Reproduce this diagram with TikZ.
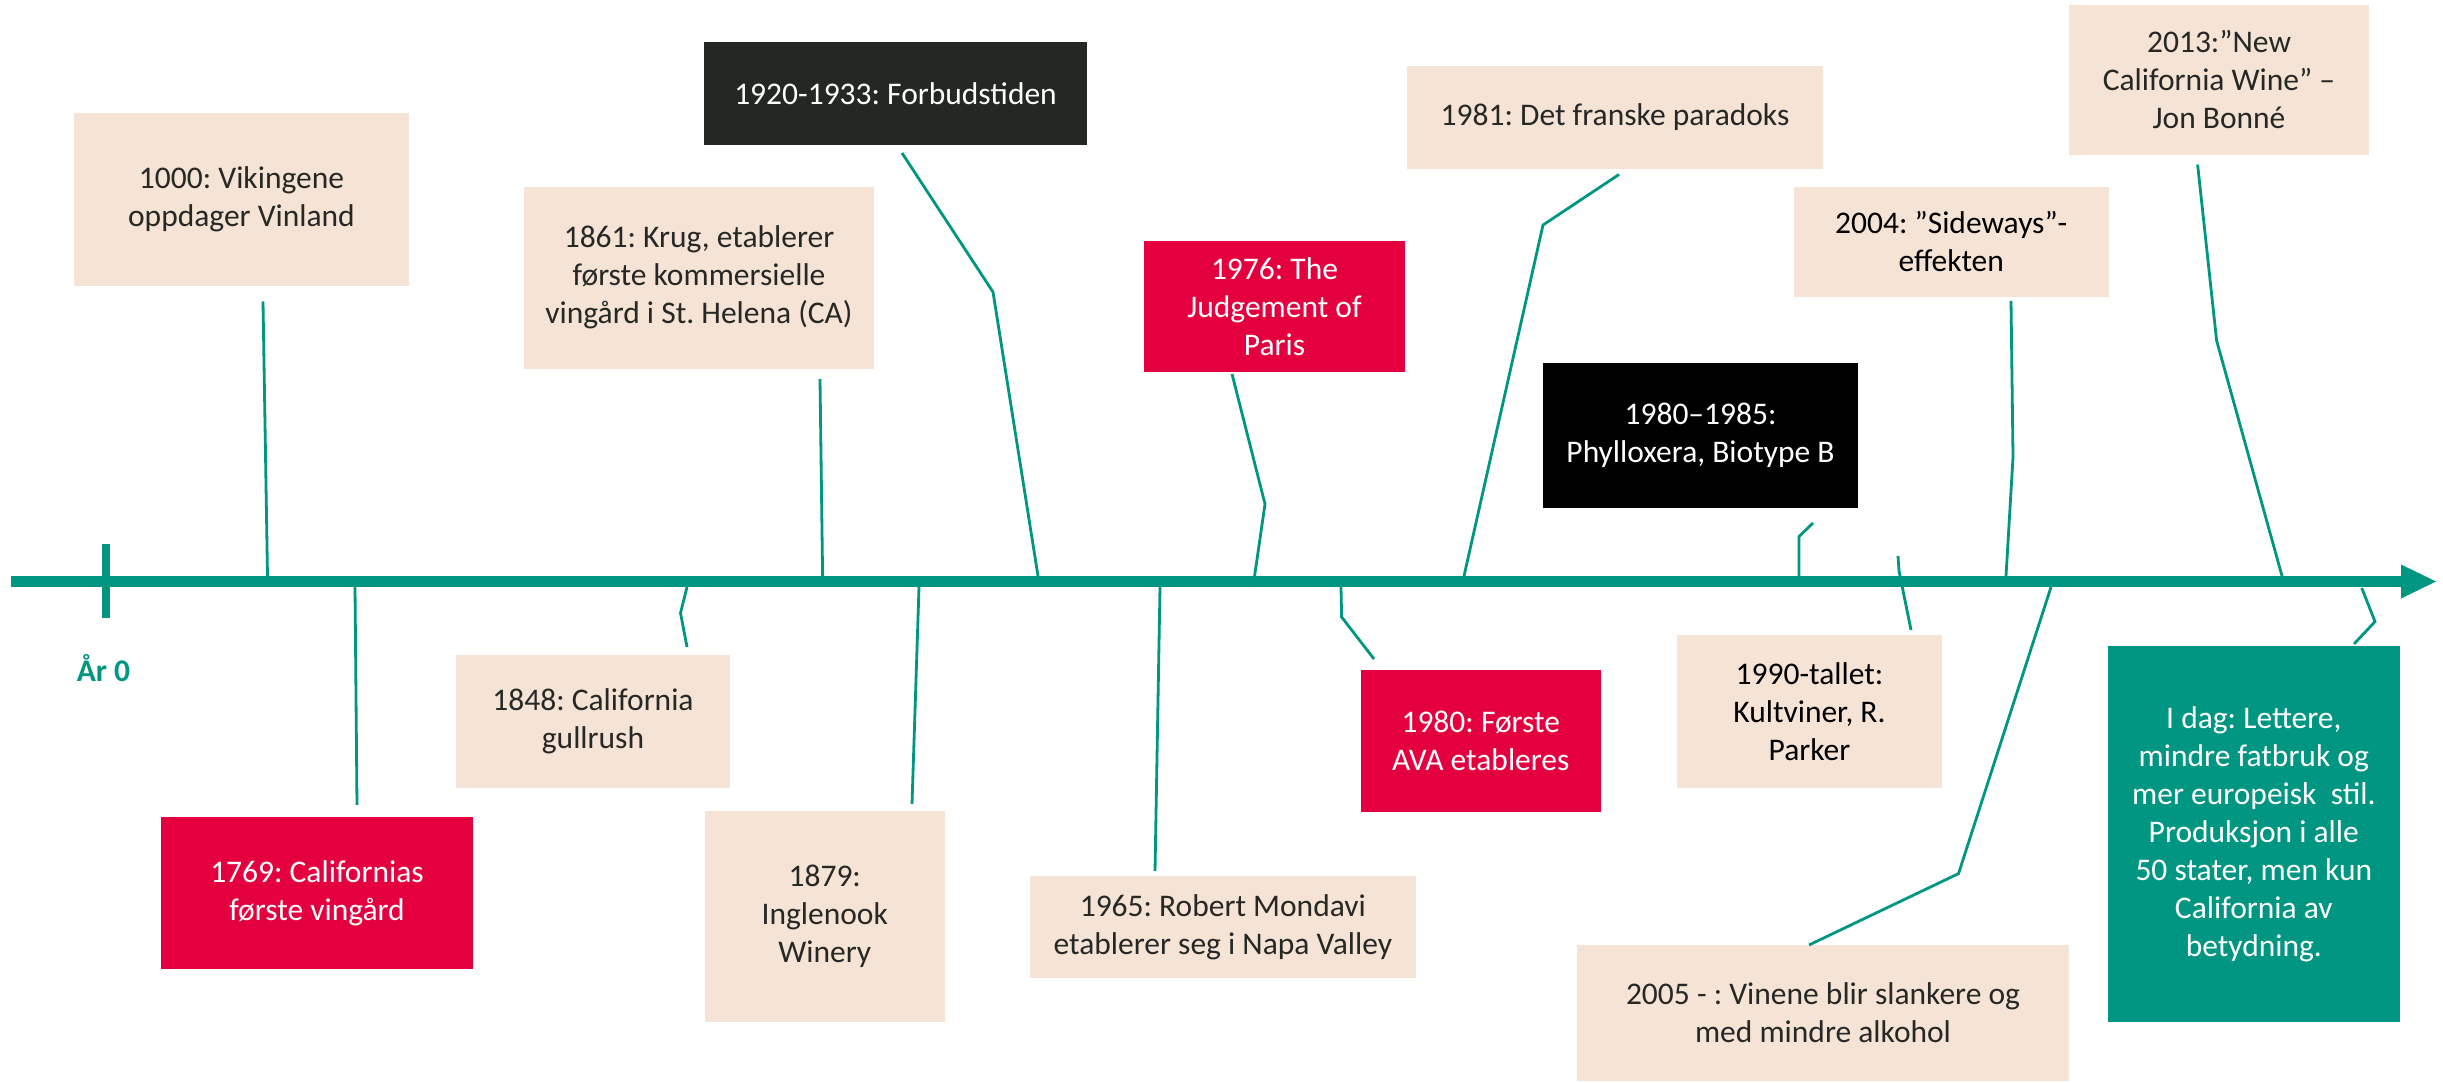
\documentclass[tikz,border=0pt]{standalone}
\usepackage{fontspec}
\setmainfont{Carlito}
\definecolor{teal}{RGB}{0,150,130}
\definecolor{beige}{RGB}{245,227,214}
\definecolor{crim}{RGB}{228,0,62}
\definecolor{darkbox}{RGB}{35,40,35}
\definecolor{txt}{RGB}{38,40,38}
\newcommand{\evfont}{\fontsize{31.5}{38}\selectfont\frenchspacing}
\begin{document}
\begin{tikzpicture}[x=1pt,y=-1pt,
  evbox/.style={rectangle, inner sep=0pt, align=center, font=\evfont},
  beigebox/.style={evbox, fill=beige, text=txt},
  redbox/.style={evbox, fill=crim, text=white},
  blackbox/.style={evbox, fill=black, text=white},
  darkevbox/.style={evbox, fill=darkbox, text=white},
  tealbox/.style={evbox, fill=teal, text=white},
  conn/.style={draw=teal, line width=2.8pt, line join=miter},
  axisline/.style={draw=teal, line width=11pt},
]
\useasboundingbox (0,0) rectangle (2443,1083);

% axis
\coordinate (ax0) at (11,581.5);
\coordinate (ax1) at (2402,581.5);
\coordinate (tip) at (2436,581.5);
\coordinate (tipu) at (2401,564.5);
\coordinate (tipd) at (2401,598.5);
\draw[axisline] (ax0) -- (ax1);
\fill[teal] (tipu) -- (tip) -- (tipd) -- cycle;
\coordinate (tk0) at (106,544);
\coordinate (tk1) at (106,618);
\draw[teal, line width=8pt] (tk0) -- (tk1);
\node[anchor=base, font=\evfont\bfseries, text=teal, inner sep=0pt] (ar0) at (103.5,681) {År 0};

% boxes
\node[beigebox, minimum width=335pt, minimum height=172.5pt] (b1000) at (241.5,199.25) {1000: Vikingene\\oppdager Vinland};
\node[redbox, minimum width=312pt, minimum height=151.6pt] (b1769) at (317,892.8) {1769: Californias\\første vingård};
\node[beigebox, minimum width=274pt, minimum height=133pt] (b1848) at (593,721.5) {1848: California\\gullrush};
\node[beigebox, minimum width=350pt, minimum height=181.5pt] (b1861) at (699,277.75) {1861: Krug, etablerer\\første kommersielle\\vingård i St. Helena (CA)};
\node[beigebox, minimum width=239.5pt, minimum height=210.6pt] (b1879) at (824.75,916.3) {1879:\\Inglenook\\Winery};
\node[darkevbox, minimum width=383pt, minimum height=103pt] (b1920) at (895.5,93.5) {1920-1933: Forbudstiden};
\node[beigebox, minimum width=385.6pt, minimum height=102pt] (b1965) at (1222.8,927) {1965: Robert Mondavi\\etablerer seg i Napa Valley};
\node[redbox, minimum width=261pt, minimum height=131pt] (b1976) at (1274.5,306.5) {1976: The\\Judgement of\\Paris};
\node[redbox, minimum width=239.5pt, minimum height=142pt] (b1980) at (1480.75,741) {1980: Første\\AVA etableres};
\node[beigebox, minimum width=416pt, minimum height=103pt] (b1981) at (1615,117.5) {1981: Det franske paradoks};
\node[blackbox, minimum width=315pt, minimum height=145pt] (b1985) at (1700.5,435.5) {1980–1985:\\Phylloxera, Biotype B};
\node[beigebox, text=black, minimum width=265pt, minimum height=153pt] (b1990) at (1809.5,711.5) {1990-tallet:\\Kultviner, R.\\Parker};
\node[beigebox, text=black, minimum width=314.5pt, minimum height=109.6pt] (b2004) at (1951.25,241.8) {2004: ”Sideways”-\\effekten};
\node[beigebox, minimum width=492pt, minimum height=136.4pt] (b2005) at (1823,1012.8) {2005 - : Vinene blir slankere og\\med mindre alkohol};
\node[beigebox, minimum width=300pt, minimum height=149.6pt] (b2013) at (2219,79.8) {2013:”New\\California Wine” –\\Jon Bonné};
\node[tealbox, minimum width=291.6pt, minimum height=375.6pt] (bidag) at (2253.8,833.8) {I dag: Lettere,\\mindre fatbruk og\\mer europeisk\ \ stil.\\Produksjon i alle\\50 stater, men kun\\California av\\betydning.};

% connector points
\coordinate (c1000a) at (263,301.5);   \coordinate (c1000b) at (267.5,576);
\coordinate (c1769a) at (355,587);     \coordinate (c1769b) at (357,805);
\coordinate (c1848a) at (687,587);     \coordinate (c1848m) at (680.5,613);  \coordinate (c1848b) at (687,647);
\coordinate (c1861a) at (820,379);     \coordinate (c1861b) at (822.6,576);
\coordinate (c1879a) at (919,587);     \coordinate (c1879b) at (912,804);
\coordinate (c1920a) at (902,153);     \coordinate (c1920m) at (993,292);    \coordinate (c1920b) at (1038,576);
\coordinate (c1965a) at (1160,587);    \coordinate (c1965b) at (1155,871);
\coordinate (c1976a) at (1232,374);    \coordinate (c1976m) at (1265,504);   \coordinate (c1976b) at (1253,587);
\coordinate (c1980a) at (1341,587);    \coordinate (c1980m) at (1341.6,617); \coordinate (c1980b) at (1374,659);
\coordinate (c1981a) at (1619,174.5);  \coordinate (c1981m) at (1543,225);   \coordinate (c1981b) at (1464,576);
\coordinate (c1985a) at (1813,523);    \coordinate (c1985m) at (1799,536.5); \coordinate (c1985b) at (1799,576);
\coordinate (c1990a) at (1898,556);    \coordinate (c1990m) at (1899,571);   \coordinate (c1990b) at (1911,630);
\coordinate (c2004a) at (2011,301);    \coordinate (c2004m) at (2013,457);   \coordinate (c2004b) at (2006,576);
\coordinate (c2005a) at (2051,587);    \coordinate (c2005m) at (1958.5,873.6); \coordinate (c2005b) at (1809,945);
\coordinate (c2013a) at (2197.6,164.6); \coordinate (c2013m) at (2216.6,340.6); \coordinate (c2013b) at (2282,576);
\coordinate (cidaga) at (2361.7,588);  \coordinate (cidagm) at (2375,621.6); \coordinate (cidagb) at (2354,644);

% connectors
\draw[conn] (c1000a) -- (c1000b);
\draw[conn] (c1769a) -- (c1769b);
\draw[conn] (c1848a) -- (c1848m) -- (c1848b);
\draw[conn] (c1861a) -- (c1861b);
\draw[conn] (c1879a) -- (c1879b);
\draw[conn] (c1920a) -- (c1920m) -- (c1920b);
\draw[conn] (c1965a) -- (c1965b);
\draw[conn] (c1976a) -- (c1976m) -- (c1976b);
\draw[conn] (c1980a) -- (c1980m) -- (c1980b);
\draw[conn] (c1981a) -- (c1981m) -- (c1981b);
\draw[conn] (c1985a) -- (c1985m) -- (c1985b);
\draw[conn] (c1990a) -- (c1990m) -- (c1990b);
\draw[conn] (c2004a) -- (c2004m) -- (c2004b);
\draw[conn] (c2005a) -- (c2005m) -- (c2005b);
\draw[conn] (c2013a) -- (c2013m) -- (c2013b);
\draw[conn] (cidaga) -- (cidagm) -- (cidagb);
\end{tikzpicture}
\end{document}
